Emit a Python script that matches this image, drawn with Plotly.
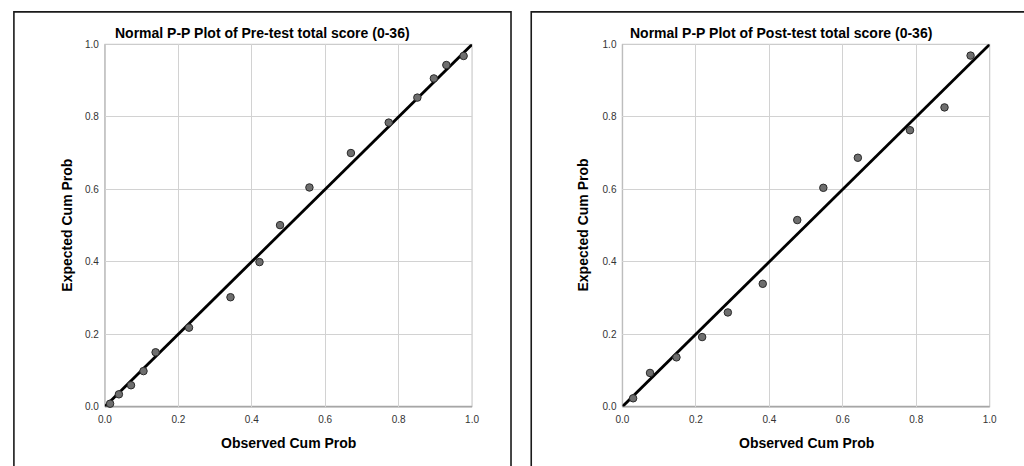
import plotly.graph_objects as go

# ---- data ----
pre_observed = [0.014, 0.038, 0.071, 0.105, 0.138, 0.229, 0.342, 0.421, 0.477,
                0.557, 0.670, 0.773, 0.851, 0.896, 0.930, 0.977]
pre_expected = [0.008, 0.034, 0.059, 0.098, 0.150, 0.218, 0.302, 0.399, 0.501,
                0.605, 0.700, 0.784, 0.853, 0.906, 0.943, 0.968]

post_observed = [0.029, 0.075, 0.147, 0.217, 0.287, 0.382, 0.476, 0.547, 0.641,
                 0.783, 0.877, 0.948]
post_expected = [0.023, 0.093, 0.136, 0.192, 0.260, 0.339, 0.515, 0.604, 0.687,
                 0.763, 0.826, 0.969]

ref_line = [0.0, 1.0]
tick_vals = [0.0, 0.2, 0.4, 0.6, 0.8, 1.0]
tick_text = ["0.0", "0.2", "0.4", "0.6", "0.8", "1.0"]

titles = ["Normal P-P Plot of Pre-test total score (0-36)",
          "Normal P-P Plot of Post-test total score (0-36)"]
x_title = "Observed Cum Prob"
y_title = "Expected Cum Prob"

W, H = 1024, 466
FONT = "Liberation Sans, Arial, sans-serif"

def px(x):
    return x / W

def py(y):
    return (H - y) / H

fig = go.Figure()

panels = [
    dict(obs=pre_observed, exp=pre_expected, xa="x", ya="y",
         dom_x=[px(99.3), px(471.5)], box=[7, 511], title=titles[0],
         ytitle_x=61),
    dict(obs=post_observed, exp=post_expected, xa="x2", ya="y2",
         dom_x=[px(624), px(996.3)], box=[531.5, 1037], title=titles[1],
         ytitle_x=584),
]
dom_y = [py(410.3), py(39.3)]

shapes = []
annotations = []
for i, p in enumerate(panels):
    fig.add_trace(go.Scatter(
        x=ref_line, y=ref_line, mode="lines", xaxis=p["xa"], yaxis=p["ya"],
        line=dict(color="#000000", width=2.8), hoverinfo="skip", showlegend=False,
        cliponaxis=False))
    fig.add_trace(go.Scatter(
        x=p["obs"], y=p["exp"], mode="markers", xaxis=p["xa"], yaxis=p["ya"],
        marker=dict(size=7.5, color="#6e6e6e", line=dict(color="#2a2a2a", width=1)),
        showlegend=False, cliponaxis=False))

    suffix = "" if i == 0 else "2"
    axis_common = dict(range=[0, 1], tickvals=tick_vals, ticktext=tick_text,
                       showgrid=True, gridcolor="#d2d2d2", gridwidth=1,
                       zeroline=False, showline=False, fixedrange=True,
                       tickfont=dict(family=FONT, size=10, color="#333333"))
    fig.update_layout(**{
        "xaxis" + suffix: dict(axis_common, domain=p["dom_x"],
                               anchor="y" + suffix, ticks="outside",
                               ticklen=3, tickcolor="rgba(0,0,0,0)"),
        "yaxis" + suffix: dict(axis_common, domain=dom_y,
                               anchor="x" + suffix, ticks="outside",
                               ticklen=3, tickcolor="rgba(0,0,0,0)"),
    })

    xd = "x" + suffix + " domain"
    yd = "y" + suffix + " domain"
    # plot-area frame
    shapes.append(dict(type="rect", xref=xd, yref=yd, x0=0, x1=1, y0=0, y1=1,
                       line=dict(color="#cccccc", width=1.2), layer="below"))
    shapes.append(dict(type="line", xref=xd, yref=yd, x0=0, x1=1, y0=0, y1=0,
                       line=dict(color="#a6a6a6", width=1.6), layer="below"))
    shapes.append(dict(type="line", xref=xd, yref=yd, x0=0, x1=0, y0=0, y1=1,
                       line=dict(color="#bdbdbd", width=1.3), layer="below"))
    # panel box
    shapes.append(dict(type="rect", xref="paper", yref="paper",
                       x0=px(p["box"][0]), x1=px(p["box"][1]),
                       y0=-0.2, y1=py(6),
                       line=dict(color="#1a1a1a", width=1.6)))

    annotations.append(dict(text="<b>%s</b>" % p["title"], xref="paper", yref="paper",
                            x=px((p["box"][0] + p["box"][1]) / 2), y=py(27.7),
                            xanchor="center", yanchor="middle", showarrow=False,
                            font=dict(family=FONT, size=14, color="#000000")))
    annotations.append(dict(text="<b>%s</b>" % x_title, xref="paper", yref="paper",
                            x=(p["dom_x"][0] + p["dom_x"][1]) / 2, y=py(448),
                            xanchor="center", yanchor="middle", showarrow=False,
                            font=dict(family=FONT, size=14, color="#000000")))
    annotations.append(dict(text="<b>%s</b>" % y_title, xref="paper", yref="paper",
                            x=px(p["ytitle_x"]), y=(dom_y[0] + dom_y[1]) / 2,
                            xanchor="center", yanchor="middle", showarrow=False,
                            textangle=-90,
                            font=dict(family=FONT, size=14, color="#000000")))

fig.update_layout(width=W, height=H, margin=dict(l=0, r=0, t=0, b=0),
                  paper_bgcolor="#ffffff", plot_bgcolor="#ffffff",
                  shapes=shapes, annotations=annotations, showlegend=False)

fig.write_html("out.html", config={"displayModeBar": False},
               post_script="document.body.style.margin='0';document.body.style.overflow='hidden';")
